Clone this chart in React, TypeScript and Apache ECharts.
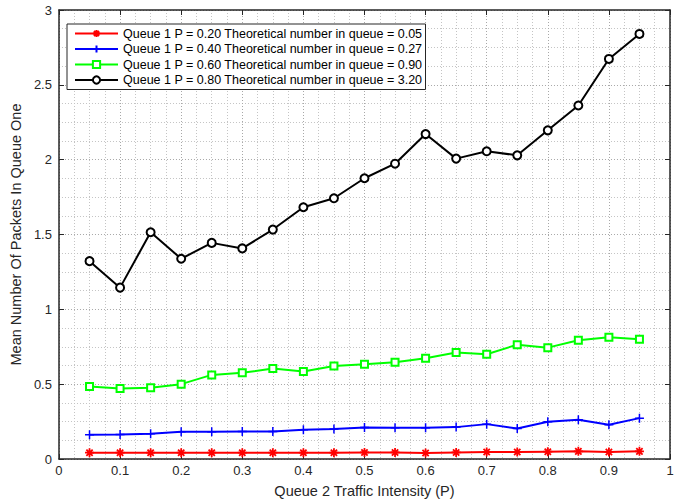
import React, { useEffect, useRef } from "react";
import * as echarts from "echarts";

// Queue 2 traffic intensity (x) for every simulated point
const trafficIntensity = [0.05, 0.1, 0.15, 0.2, 0.25, 0.3, 0.35, 0.4, 0.45, 0.5, 0.55, 0.6, 0.65, 0.7, 0.75, 0.8, 0.85, 0.9, 0.95];

// Mean number of packets in queue one, per queue-1 load
const queueP20 = [0.042, 0.042, 0.042, 0.042, 0.042, 0.042, 0.042, 0.042, 0.042, 0.044, 0.044, 0.04, 0.044, 0.047, 0.047, 0.049, 0.051, 0.047, 0.051];
const queueP40 = [0.162, 0.164, 0.169, 0.182, 0.182, 0.184, 0.184, 0.196, 0.2, 0.211, 0.209, 0.209, 0.213, 0.233, 0.204, 0.249, 0.262, 0.229, 0.273];
const queueP60 = [0.485, 0.471, 0.476, 0.5, 0.562, 0.576, 0.604, 0.584, 0.622, 0.633, 0.647, 0.673, 0.711, 0.7, 0.764, 0.744, 0.793, 0.813, 0.8];
const queueP80 = [1.322, 1.145, 1.515, 1.338, 1.444, 1.407, 1.533, 1.682, 1.742, 1.876, 1.973, 2.171, 2.007, 2.056, 2.029, 2.196, 2.362, 2.673, 2.84];

const seriesNames = [
  "Queue 1 P = 0.20 Theoretical number in queue = 0.05",
  "Queue 1 P = 0.40 Theoretical number in queue = 0.27",
  "Queue 1 P = 0.60 Theoretical number in queue = 0.90",
  "Queue 1 P = 0.80 Theoretical number in queue = 3.20",
];

const FONT = "'Liberation Sans', Arial, Helvetica, sans-serif";
const AXIS_COLOR = "#262626";

const asteriskSymbol = "path://M0,-5L0,5M-5,0L5,0M-3.5,-3.5L3.5,3.5M-3.5,3.5L3.5,-3.5";
const plusSymbol = "path://M0,-5L0,5M-5,0L5,0";

function pairs(values: number[]): [number, number][] {
  return trafficIntensity.map((x, i) => [x, values[i]]);
}

export default function App() {
  const ref = useRef<HTMLDivElement>(null);

  useEffect(() => {
    if (!ref.current) return;
    const chart = echarts.init(ref.current, null, { renderer: "svg" });

    const gridDotted = { type: [1, 2] as number[], width: 1 };

    const baseX = {
      type: "value" as const,
      min: 0,
      max: 1,
      interval: 0.1,
      axisLine: { show: true, onZero: false, lineStyle: { color: AXIS_COLOR, width: 1.5 } },
      axisTick: { show: true, inside: true, length: 5, lineStyle: { color: AXIS_COLOR } },
    };
    const baseY = {
      type: "value" as const,
      min: 0,
      max: 3,
      interval: 0.5,
      axisLine: { show: true, onZero: false, lineStyle: { color: AXIS_COLOR, width: 1.5 } },
      axisTick: { show: true, inside: true, length: 5, lineStyle: { color: AXIS_COLOR } },
    };

    const option: echarts.EChartsOption = {
      animation: false,
      backgroundColor: "#ffffff",
      textStyle: { fontFamily: FONT },
      grid: { left: 53, right: 10, top: 10, bottom: 43, containLabel: false },
      legend: {
        orient: "vertical",
        left: 67,
        top: 24,
        padding: [3, 3, 3, 7],
        itemGap: 2.5,
        itemWidth: 43,
        itemHeight: 9,
        backgroundColor: "#ffffff",
        borderColor: AXIS_COLOR,
        borderWidth: 1,
        borderRadius: 0,
        textStyle: { fontFamily: FONT, fontSize: 12.5, color: "#000000", lineHeight: 13 },
        data: seriesNames,
      },
      xAxis: [
        {
          ...baseX,
          position: "bottom",
          name: "Queue 2 Traffic Intensity (P)",
          nameLocation: "middle",
          nameGap: 24,
          nameTextStyle: { fontFamily: FONT, fontSize: 14.5, color: AXIS_COLOR },
          axisLabel: { show: true, margin: 5, fontFamily: FONT, fontSize: 13, color: AXIS_COLOR },
          splitLine: { show: true, lineStyle: { ...gridDotted, color: "#a8a8a8" } },
          minorTick: { show: false, splitNumber: 4 },
          minorSplitLine: { show: true, lineStyle: { ...gridDotted, color: "#c4c4c4" } },
        },
        {
          ...baseX,
          position: "top",
          axisLabel: { show: false },
          splitLine: { show: false },
        },
      ],
      yAxis: [
        {
          ...baseY,
          position: "left",
          name: "Mean Number Of Packets In Queue One",
          nameLocation: "middle",
          nameGap: 30,
          nameTextStyle: { fontFamily: FONT, fontSize: 14.5, color: AXIS_COLOR },
          axisLabel: { show: true, margin: 7, fontFamily: FONT, fontSize: 13, color: AXIS_COLOR },
          splitLine: { show: true, lineStyle: { ...gridDotted, color: "#a8a8a8" } },
          minorTick: { show: false, splitNumber: 4 },
          minorSplitLine: { show: true, lineStyle: { ...gridDotted, color: "#c4c4c4" } },
        },
        {
          ...baseY,
          position: "right",
          axisLabel: { show: false },
          splitLine: { show: false },
        },
      ],
      series: [
        {
          name: seriesNames[0],
          type: "line",
          xAxisIndex: 0,
          yAxisIndex: 0,
          data: pairs(queueP20),
          symbol: asteriskSymbol,
          symbolSize: 9,
          lineStyle: { color: "#ff0000", width: 2 },
          itemStyle: { color: "#ff0000", borderColor: "#ff0000", borderWidth: 1.8 },
        },
        {
          name: seriesNames[1],
          type: "line",
          xAxisIndex: 0,
          yAxisIndex: 0,
          data: pairs(queueP40),
          symbol: plusSymbol,
          symbolSize: 9,
          lineStyle: { color: "#0000ff", width: 2 },
          itemStyle: { color: "#0000ff", borderColor: "#0000ff", borderWidth: 1.5 },
        },
        {
          name: seriesNames[2],
          type: "line",
          xAxisIndex: 0,
          yAxisIndex: 0,
          data: pairs(queueP60),
          symbol: "emptyRect",
          symbolSize: 7,
          lineStyle: { color: "#00ff00", width: 2 },
          itemStyle: { color: "#00ff00", borderColor: "#00ff00", borderWidth: 1.5 },
        },
        {
          name: seriesNames[3],
          type: "line",
          xAxisIndex: 0,
          yAxisIndex: 0,
          data: pairs(queueP80),
          symbol: "emptyCircle",
          symbolSize: 8,
          lineStyle: { color: "#000000", width: 2 },
          itemStyle: { color: "#000000", borderColor: "#000000", borderWidth: 1.5 },
        },
      ],
    };

    chart.setOption(option);
    return () => chart.dispose();
  }, []);

  return <div ref={ref} style={{ width: 680, height: 503, position: "absolute", left: 0, top: 0 }} />;
}
